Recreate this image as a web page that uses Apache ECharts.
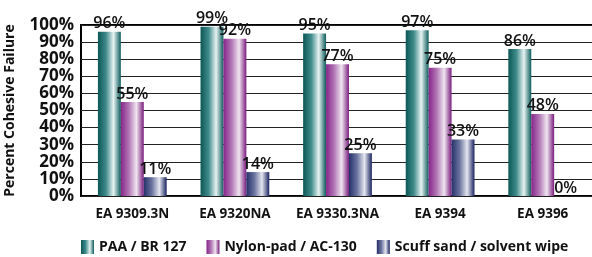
<!DOCTYPE html>
<html>
<head>
<meta charset="utf-8">
<script src="https://cdn.jsdelivr.net/npm/echarts@6/dist/echarts.min.js"></script>
<style>
  html, body { margin: 0; padding: 0; background: #fff; }
  #chart { width: 592px; height: 257px; }
</style>
</head>
<body>
<div id="chart"></div>
<script>
const categories = ['EA 9309.3N', 'EA 9320NA', 'EA 9330.3NA', 'EA 9394', 'EA 9396'];
const paaBr127 = [96, 99, 95, 97, 86];
const nylonAc130 = [55, 92, 77, 75, 48];
const scuffSolvent = [11, 14, 25, 33, 0];
const seriesNames = ['PAA / BR 127', 'Nylon-pad / AC-130', 'Scuff sand / solvent wipe'];

const FONT = 'Open Sans';

// metallic cylinder look: dark edge, light highlight right of centre
function tube(edge, mid, light, edge2) {
  return new echarts.graphic.LinearGradient(0, 0, 1, 0, [
    { offset: 0, color: edge },
    { offset: 0.35, color: mid },
    { offset: 0.68, color: light },
    { offset: 1, color: edge2 }
  ]);
}
const fills = [
  tube('#0c5656', '#3f8a8a', '#e6f3f2', '#0e5c5c'),
  tube('#86268a', '#b275b5', '#efe5f0', '#7a1c7e'),
  tube('#25306a', '#6a739e', '#e4e6ef', '#1a2260')
];

const chart = echarts.init(document.getElementById('chart'));

const label = {
  show: true,
  position: 'top',
  distance: 0,
  formatter: '{c}%',
  color: '#111',
  fontFamily: FONT,
  fontSize: 16,
  fontWeight: 600
};

chart.setOption({
  animation: false,
  grid: {
    left: 81, top: 25, right: -2, bottom: 61,
    outerBoundsMode: 'none',
    show: true, borderColor: '#000', borderWidth: 2, backgroundColor: 'transparent'
  },
  legend: {
    bottom: 3,
    left: 81,
    padding: 0,
    icon: 'rect',
    itemWidth: 13,
    itemHeight: 14,
    itemGap: 20,
    textStyle: { fontFamily: FONT, fontSize: 14, fontWeight: 'bold', color: '#111' },
    data: seriesNames
  },
  xAxis: {
    type: 'category',
    data: categories,
    axisLine: { show: false },
    axisTick: { show: false },
    axisLabel: {
      interval: 0, hideOverlap: false, margin: 11,
      fontFamily: FONT, fontSize: 13.5, fontWeight: 'bold', color: '#111'
    }
  },
  yAxis: {
    type: 'value',
    min: 0, max: 100, interval: 10,
    name: 'Percent Cohesive Failure',
    nameLocation: 'middle',
    nameGap: 64,
    nameTextStyle: { fontFamily: FONT, fontSize: 14, fontWeight: 'bold', color: '#111' },
    axisLine: { show: false },
    axisTick: { show: false },
    splitLine: { lineStyle: { color: '#222', width: 1 } },
    axisLabel: {
      formatter: '{value}%', margin: 7,
      showMinLabel: true, showMaxLabel: true, hideOverlap: false,
      fontFamily: FONT, fontSize: 17, fontWeight: 'bold', color: '#111'
    }
  },
  series: [paaBr127, nylonAc130, scuffSolvent].map((d, i) => ({
    name: seriesNames[i],
    type: 'bar',
    data: d,
    barGap: '0%',
    barCategoryGap: '33%',
    itemStyle: { color: fills[i] },
    label: label
  }))
});
</script>
</body>
</html>
